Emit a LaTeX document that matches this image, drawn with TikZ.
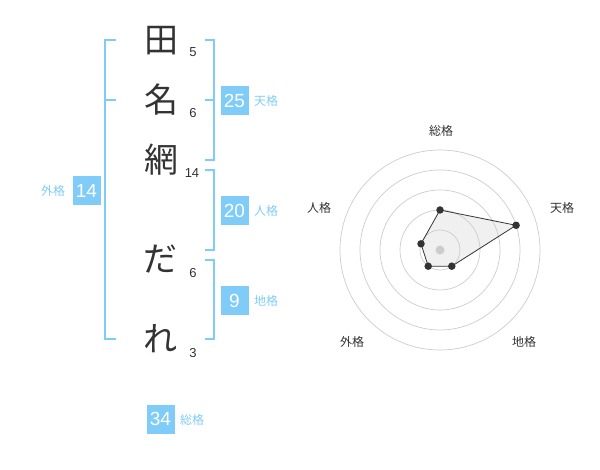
\documentclass[tikz,border=0pt]{standalone}
\usepackage{fontspec}
\setmainfont{Liberation Sans}
\newfontfamily\jp{Noto Sans CJK JP}
\definecolor{sky}{HTML}{80CCF8}
\definecolor{ink}{HTML}{333333}
\definecolor{ringc}{HTML}{CCCCCC}
\definecolor{areac}{HTML}{E6E6E6}
\begin{document}
\begin{tikzpicture}[x=1pt,y=-1pt,
  bigch/.style={font=\jp\fontsize{34}{34}\selectfont, text=ink, inner sep=0},
  strk/.style={font=\fontsize{13}{13}\selectfont, text=ink, inner sep=0},
  numbox/.style={fill=sky, text=white, minimum width=28pt, minimum height=29pt, inner sep=0, font=\fontsize{19}{19}\selectfont},
  kaku/.style={font=\jp\fontsize{12}{12}\selectfont, text=sky, inner sep=0},
  brk/.style={draw=sky, line width=2pt},
  ring/.style={draw=ringc, line width=0.7pt},
  rlab/.style={font=\jp\fontsize{12}{12}\selectfont, text=ink, inner sep=0},
  rdot/.style={circle, fill=ink, inner sep=0, minimum size=7.5pt},
]
\useasboundingbox (0,0) rectangle (600,470);
% name characters
\node[bigch] (c1) at (161,41) {田};
\node[bigch] (c2) at (161,100) {名};
\node[bigch] (c3) at (161,160) {網};
\node[bigch] (c4) at (160,259) {だ};
\node[bigch] (c5) at (160,339) {れ};
% stroke counts
\node[strk] (s1) at (193,52) {5};
\node[strk] (s2) at (193,113) {6};
\node[strk] (s3) at (192,173) {14};
\node[strk] (s4) at (193,273) {6};
\node[strk] (s5) at (193,353) {3};
% brackets
\draw[brk] (205,40) -- (214,40) -- (214,160) -- (205,160);
\draw[brk] (205,100) -- (214,100);
\draw[brk] (205,170) -- (214,170) -- (214,250) -- (205,250);
\draw[brk] (205,260) -- (214,260) -- (214,339) -- (205,339);
\draw[brk] (116,40) -- (105,40) -- (105,339) -- (116,339);
\draw[brk] (105,100) -- (116,100);
% boxes and labels
\node[numbox] (b1) at (234.5,100.5) {25};
\node[kaku] (k1) at (266,101) {天格};
\node[numbox] (b2) at (234.5,210.5) {20};
\node[kaku] (k2) at (266,211) {人格};
\node[numbox] (b3) at (234.5,300.5) {9};
\node[kaku] (k3) at (266,301) {地格};
\node[numbox] (b4) at (86.5,190.5) {14};
\node[kaku] (k4) at (53,191) {外格};
\node[numbox] (b5) at (160.5,419) {34};
\node[kaku] (k5) at (192,420) {総格};
% radar
\coordinate (ctr) at (440,250);
\coordinate (pS) at (440,210);
\coordinate (pT) at (516.1,225.3);
\coordinate (pC) at (451.8,266.2);
\coordinate (pG) at (428.2,266.2);
\coordinate (pJ) at (421.0,243.8);
\fill[areac, fill opacity=0.6] (pS) -- (pT) -- (pC) -- (pG) -- (pJ) -- cycle;
\foreach \r in {20,40,60,80,100} \draw[ring] (ctr) circle[radius=\r];
\fill[ringc] (ctr) circle[radius=4.5];
\draw[ink, line width=0.8pt] (pS) -- (pT) -- (pC) -- (pG) -- (pJ) -- cycle;
\foreach \p in {pS,pT,pC,pG,pJ} \node[rdot] at (\p) {};
\node[rlab] (r1) at (441,131) {総格};
\node[rlab] (r2) at (562,208) {天格};
\node[rlab] (r3) at (319,208) {人格};
\node[rlab] (r4) at (352,342) {外格};
\node[rlab] (r5) at (524,342) {地格};
\end{tikzpicture}
\end{document}
